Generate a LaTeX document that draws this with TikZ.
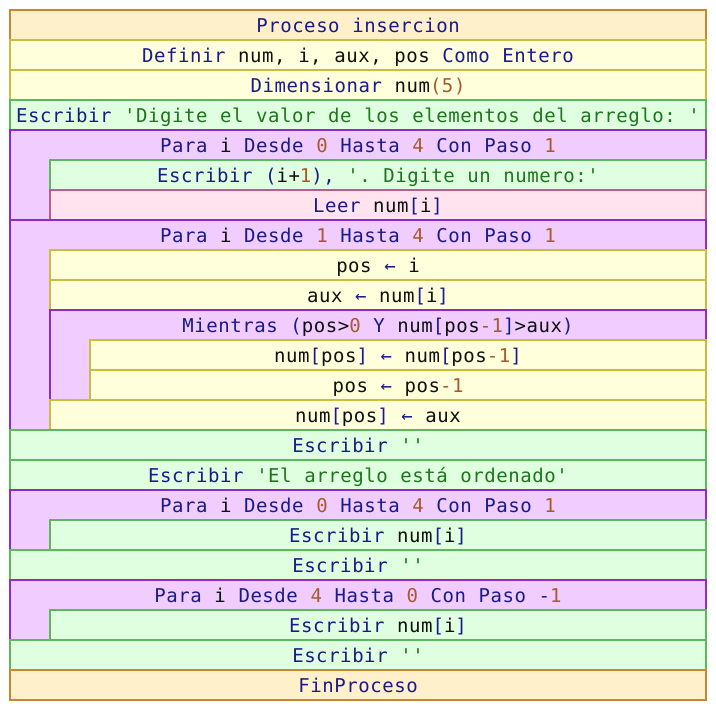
\documentclass[tikz,border=0pt]{standalone}
\usepackage{fontspec}
\setmonofont{DejaVu Sans Mono}[LetterSpace=2.95, WordSpace=1.049]

% token colours
\definecolor{kwC}{HTML}{1A1A8A}
\definecolor{nbC}{HTML}{A85A2A}
\definecolor{sgC}{HTML}{1C761C}
\definecolor{idC}{HTML}{101010}
% block colours
\definecolor{procF}{HTML}{FFF0CC}\definecolor{procD}{HTML}{C8872A}
\definecolor{asgF}{HTML}{FFFFDC}\definecolor{asgD}{HTML}{C8BE3C}
\definecolor{outF}{HTML}{E0FFE0}\definecolor{outD}{HTML}{5CB85C}
\definecolor{loopF}{HTML}{F0CCFF}\definecolor{loopD}{HTML}{8C2CC8}
\definecolor{inF}{HTML}{FFE4F0}\definecolor{inD}{HTML}{C05A8A}

\newcommand\Kw[1]{\textcolor{kwC}{#1}}
\newcommand\Nb[1]{\textcolor{nbC}{#1}}
\newcommand\Sg[1]{\textcolor{sgC}{#1}}

\tikzset{
  blk/.style={line width=1.8pt},
  procbox/.style={blk, draw=procD, fill=procF},
  asgbox/.style={blk, draw=asgD, fill=asgF},
  outbox/.style={blk, draw=outD, fill=outF},
  loopbox/.style={blk, draw=loopD, fill=loopF},
  inbox/.style={blk, draw=inD, fill=inF},
  code/.style={anchor=base, inner sep=0pt, text=idC,
    font=\ttfamily\fontsize{19}{21}\selectfont\frenchspacing},
}

% one statement row: name, style, left x, row index, text
\newcommand\stmt[5]{%
  \path[#2] (#3,{10+30*#4}) rectangle (706,{40+30*#4});
  \node[code] (#1) at ({(#3+706)/2},{32+30*#4}) {#5};}
% loop frame: name, left x, first row, last row, header text
\newcommand\loopblk[5]{%
  \path[loopbox] (#2,{10+30*#3}) rectangle (706,{40+30*#4});
  \node[code] (#1) at ({(#2+706)/2},{32+30*#3}) {#5};}

\begin{document}
\begin{tikzpicture}[x=1pt,y=-1pt]
\useasboundingbox (0,0) rectangle (716,710);

\stmt{r0}{procbox}{10}{0}{\Kw{Proceso insercion}}
\stmt{r1}{asgbox}{10}{1}{\Kw{Definir} num, i, aux, pos \Kw{Como Entero}}
\stmt{r2}{asgbox}{10}{2}{\Kw{Dimensionar} num\Nb{(5)}}
\stmt{r3}{outbox}{10}{3}{\Kw{Escribir} \Sg{'Digite el valor de los elementos del arreglo: '}}

\loopblk{r4}{10}{4}{6}{\Kw{Para} i \Kw{Desde} \Nb{0} \Kw{Hasta} \Nb{4} \Kw{Con Paso} \Nb{1}}
\stmt{r5}{outbox}{50}{5}{\Kw{Escribir (}i+\Nb{1}\Kw{),} \Sg{'. Digite un numero:'}}
\stmt{r6}{inbox}{50}{6}{\Kw{Leer} num\Kw{[}i\Kw{]}}

\loopblk{r7}{10}{7}{13}{\Kw{Para} i \Kw{Desde} \Nb{1} \Kw{Hasta} \Nb{4} \Kw{Con Paso} \Nb{1}}
\stmt{r8}{asgbox}{50}{8}{pos \Kw{←} i}
\stmt{r9}{asgbox}{50}{9}{aux \Kw{←} num\Kw{[}i\Kw{]}}
\loopblk{r10}{50}{10}{12}{\Kw{Mientras (}pos>\Nb{0} \Kw{Y} num\Kw{[}pos\Nb{-1}\Kw{]}>aux\Kw{)}}
\stmt{r11}{asgbox}{90}{11}{num\Kw{[}pos\Kw{]} \Kw{←} num\Kw{[}pos\Nb{-1}\Kw{]}}
\stmt{r12}{asgbox}{90}{12}{pos \Kw{←} pos\Nb{-1}}
\stmt{r13}{asgbox}{50}{13}{num\Kw{[}pos\Kw{]} \Kw{←} aux}

\stmt{r14}{outbox}{10}{14}{\Kw{Escribir} \Sg{''}}
\stmt{r15}{outbox}{10}{15}{\Kw{Escribir} \Sg{'El arreglo está ordenado'}}

\loopblk{r16}{10}{16}{17}{\Kw{Para} i \Kw{Desde} \Nb{0} \Kw{Hasta} \Nb{4} \Kw{Con Paso} \Nb{1}}
\stmt{r17}{outbox}{50}{17}{\Kw{Escribir} num\Kw{[}i\Kw{]}}
\stmt{r18}{outbox}{10}{18}{\Kw{Escribir} \Sg{''}}

\loopblk{r19}{10}{19}{20}{\Kw{Para} i \Kw{Desde} \Nb{4} \Kw{Hasta} \Nb{0} \Kw{Con Paso} \Kw{-}\Nb{1}}
\stmt{r20}{outbox}{50}{20}{\Kw{Escribir} num\Kw{[}i\Kw{]}}
\stmt{r21}{outbox}{10}{21}{\Kw{Escribir} \Sg{''}}

\stmt{r22}{procbox}{10}{22}{\Kw{FinProceso}}
\end{tikzpicture}
\end{document}
